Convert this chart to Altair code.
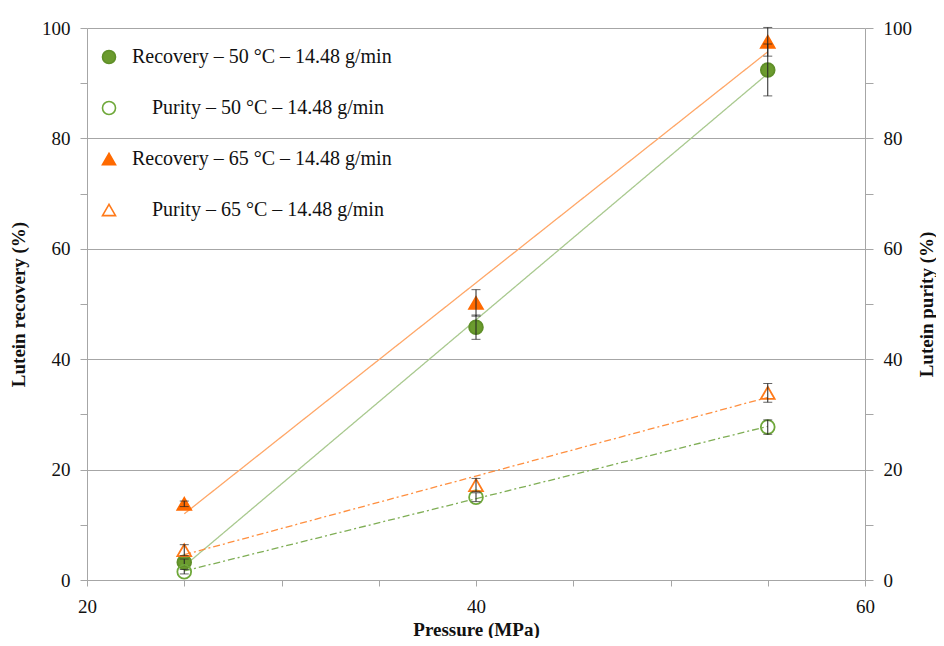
import altair as alt
import pandas as pd

# ---- data ----
pressure = [25, 40, 55]
series_names = [
    "Recovery \u2013 50 \u00b0C \u2013 14.48 g/min",
    "\u200b\u2003\u200bPurity \u2013 50 \u00b0C \u2013 14.48 g/min",
    "Recovery \u2013 65 \u00b0C \u2013 14.48 g/min",
    "\u200b\u2003\u200bPurity \u2013 65 \u00b0C \u2013 14.48 g/min",
]
series_kind = ["Recovery", "Purity", "Recovery", "Purity"]
rec50 = [3.2, 45.8, 92.4]
rec50_err = [0.6, 2.2, 4.7]
pur50 = [1.5, 15.0, 27.7]
pur50_err = [0.4, 0.8, 1.3]
rec65 = [13.8, 50.2, 97.5]
rec65_err = [0.5, 2.4, 2.6]
pur65 = [5.4, 17.2, 33.9]
pur65_err = [1.0, 1.2, 1.7]

values = [rec50, pur50, rec65, pur65]
errors = [rec50_err, pur50_err, rec65_err, pur65_err]

# styles
shapes = ["circle", "circle", "triangle-up", "triangle-up"]
fills = ["#6b9b2e", "transparent", "#ff6a00", "transparent"]
strokes = ["#5f8f28", "#6fa83a", "#ff6a00", "#ff7a1a"]
line_colors = ["#a9c98f", "#7fae55", "#ffa768", "#ff8f3f"]
line_dash = [[1, 0], [7, 3, 2, 3], [1, 0], [7, 3, 2, 3]]

rows = []
for name, kind, vals, errs in zip(series_names, series_kind, values, errors):
    for p, v, e in zip(pressure, vals, errs):
        rows.append({"series": name, "kind": kind, "pressure": p, "value": v,
                     "lo": v - e, "hi": v + e})
df = pd.DataFrame(rows)

FONT = "Liberation Serif"
GRID = "#a6a6a6"
TXT = "#111111"

legend = alt.Legend(
    title=None, orient="none", legendX=12, legendY=19,
    labelFont=FONT, labelFontSize=20, labelColor=TXT, labelOffset=13,
    labelLimit=0,
    symbolSize=170, symbolStrokeWidth=1.6, rowPadding=31, padding=0,
)
shape_enc = alt.Shape("series:N", scale=alt.Scale(domain=series_names, range=shapes), legend=legend)
fill_enc = alt.Fill("series:N", scale=alt.Scale(domain=series_names, range=fills), legend=legend)
stroke_enc = alt.Stroke("series:N", scale=alt.Scale(domain=series_names, range=strokes), legend=legend)

x_enc = alt.X(
    "pressure:Q",
    scale=alt.Scale(domain=[20, 60], nice=False),
    axis=alt.Axis(
        title="Pressure (MPa)", values=list(range(20, 61, 5)),
        labelExpr="datum.value % 20 === 0 ? datum.label : ''",
        labelFlush=False,
        grid=False, domainColor=GRID, tickColor=GRID, tickSize=6,
        labelFont=FONT, labelFontSize=19, labelColor=TXT, labelPadding=11,
        titleFont=FONT, titleFontSize=19, titleFontWeight="bold", titleColor=TXT,
        titlePadding=4,
    ),
)


def y_enc(field, side, title):
    if side == "left":
        axis = alt.Axis(
            orient="left", title=title, values=list(range(0, 101, 10)),
            labelExpr="datum.value % 20 === 0 ? datum.label : ''",
            labelFlush=False,
            grid=True, gridColor=GRID,
            gridOpacity={"condition": {"test": "datum.value % 20 === 0", "value": 1}, "value": 0},
            domainColor=GRID, tickColor=GRID, tickSize=7,
            labelFont=FONT, labelFontSize=19, labelColor=TXT, labelPadding=10,
            titleFont=FONT, titleFontSize=19, titleFontWeight="bold", titleColor=TXT,
            titlePadding=13,
        )
    else:
        axis = alt.Axis(
            orient="right", title=title, values=list(range(0, 101, 10)),
            labelExpr="datum.value % 20 === 0 ? datum.label : ''",
            labelFlush=False,
            grid=False, domainColor=GRID, tickColor=GRID, tickSize=8,
            labelFont=FONT, labelFontSize=19, labelColor=TXT, labelPadding=10,
            titleFont=FONT, titleFontSize=19, titleFontWeight="bold", titleColor=TXT,
            titlePadding=25, titleAngle=270,
        )
    return alt.Y(field, scale=alt.Scale(domain=[0, 100], nice=False), axis=axis)


def build_side(kind, side, title):
    base = alt.Chart(df).transform_filter(alt.datum.kind == kind)
    layers = []
    for name, k, col, dash in zip(series_names, series_kind, line_colors, line_dash):
        if k != kind:
            continue
        layers.append(
            base.transform_filter(alt.datum.series == name)
            .transform_regression("pressure", "value")
            .mark_line(strokeWidth=1.3, strokeDash=dash, color=col)
            .encode(x=x_enc, y=y_enc("value:Q", side, title))
        )
    layers.append(
        base.mark_point(size=190, strokeWidth=1.8, opacity=1).encode(
            x=x_enc, y=y_enc("value:Q", side, title),
            shape=shape_enc, fill=fill_enc, stroke=stroke_enc,
        )
    )
    layers.append(
        base.mark_rule(color="#222222", strokeWidth=1).encode(
            x=x_enc, y=y_enc("lo:Q", side, title), y2="hi:Q"
        )
    )
    layers.append(
        base.mark_tick(color="#222222", thickness=1, size=9, orient="horizontal").encode(
            x=x_enc, y=y_enc("lo:Q", side, title)
        )
    )
    layers.append(
        base.mark_tick(color="#222222", thickness=1, size=9, orient="horizontal").encode(
            x=x_enc, y=y_enc("hi:Q", side, title)
        )
    )
    return alt.layer(*layers)


left = build_side("Recovery", "left", "Lutein recovery (%)")
right = build_side("Purity", "right", "Lutein purity (%)")

chart = (
    alt.layer(left, right)
    .resolve_scale(y="independent")
    .properties(
        width=778, height=552,
        autosize=alt.AutoSizeParams(type="none"),
        padding={"left": 79, "top": 20, "right": 71, "bottom": 58},
        background="white",
    )
    .configure_view(stroke=None)
)

chart.save("out.html", embed_options={"renderer": "svg", "actions": False})
